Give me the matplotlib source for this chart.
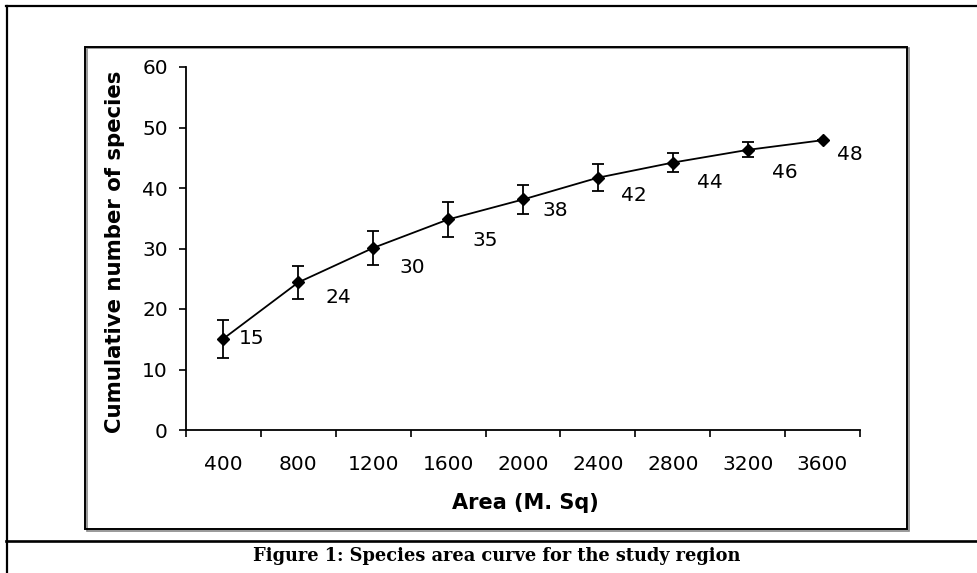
import matplotlib
matplotlib.use("Agg")
import matplotlib.pyplot as plt
from matplotlib.lines import Line2D
from matplotlib.patches import Rectangle
import numpy as np

# ---- data ----
areas = ["400", "800", "1200", "1600", "2000", "2400", "2800", "3200", "3600"]
species = [15.1, 24.4, 30.1, 34.8, 38.1, 41.7, 44.2, 46.3, 47.9]
errors = [3.15, 2.7, 2.75, 2.85, 2.4, 2.2, 1.55, 1.25, 0.0]
labels = ["15", "24", "30", "35", "38", "42", "44", "46", "48"]
y_ticks = [0, 10, 20, 30, 40, 50, 60]
# label placement offsets in points (layout only)
label_dx = [20, 29, 28, 27, 23, 26, 27, 27, 20]
label_dy = [0, -11, -14, -15, -8, -13, -14, -16, -10]

W, H = 977, 573
plt.rcParams['font.family'] = ['DejaVu Sans']
fig = plt.figure(figsize=(W / 100, H / 100), dpi=100)

def fx(px):
    return px / W

def fy(py):
    return 1 - py / H

# outer frame lines
fig.add_artist(Line2D([fx(6.5), fx(6.5)], [fy(5.5), fy(573)], color='black', lw=1.6, transform=fig.transFigure))
fig.add_artist(Line2D([fx(5.5), fx(977)], [fy(6), fy(6)], color='black', lw=1.6, transform=fig.transFigure))
fig.add_artist(Line2D([fx(5.5), fx(977)], [fy(541), fy(541)], color='black', lw=1.9, transform=fig.transFigure))

# inner chart box (with slight shadow)
fig.add_artist(Rectangle((fx(86.5), fy(530.5)), fx(908.5) - fx(86.5), fy(48.5) - fy(530.5),
                         fill=False, edgecolor='#888888', lw=1.2, transform=fig.transFigure))
fig.add_artist(Rectangle((fx(85), fy(529)), fx(907) - fx(85), fy(47) - fy(529),
                         fill=False, edgecolor='black', lw=1.4, transform=fig.transFigure))

ax = fig.add_axes([fx(186), fy(430), fx(860) - fx(186), fy(67) - fy(430)])
ax.patch.set_alpha(0)
x = np.arange(len(areas))
ax.errorbar(x, species, yerr=errors, fmt='-', color='black', lw=1.3,
            marker='D', markersize=6.5, ecolor='black', elinewidth=1.3,
            capsize=4, capthick=1.3)
for xi, yi, lab, dx, dy in zip(x, species, labels, label_dx, label_dy):
    ax.annotate(lab, (xi, yi), xytext=(dx, dy), textcoords='offset points',
                ha='center', va='center', fontsize=14.5)

ax.set_xlim(-0.5, len(areas) - 0.5)
ax.set_ylim(0, 60)
ax.set_yticks(y_ticks)
ax.tick_params(axis='y', direction='out', length=5, width=1.2, labelsize=14.5, pad=8)
ax.set_xticks(np.arange(-0.5, len(areas), 1.0))
ax.set_xticklabels([])
ax.set_xticks(x, minor=True)
ax.set_xticklabels(areas, minor=True)
ax.tick_params(axis='x', which='major', direction='out', length=5, width=1.2)
ax.tick_params(axis='x', which='minor', length=0, labelsize=14.5, pad=18)
for s in ['top', 'right']:
    ax.spines[s].set_visible(False)
for s in ['left', 'bottom']:
    ax.spines[s].set_linewidth(1.3)
ax.set_xlabel("Area (M. Sq)", fontsize=15, fontweight='bold', va='center')
ax.xaxis.set_label_coords(0.503, (430 - 503) / 363)
ax.set_ylabel("Cumulative number of species", fontsize=15.3, fontweight='bold', va='center')
ax.yaxis.set_label_coords((115 - 186) / 674, 0.49)

fig.text(fx(497), fy(561), "Figure 1: Species area curve for the study region",
         ha='center', va='baseline', fontsize=12.8, fontweight='bold',
         family=['DejaVu Serif'])

fig.savefig("out.png", dpi=100)
